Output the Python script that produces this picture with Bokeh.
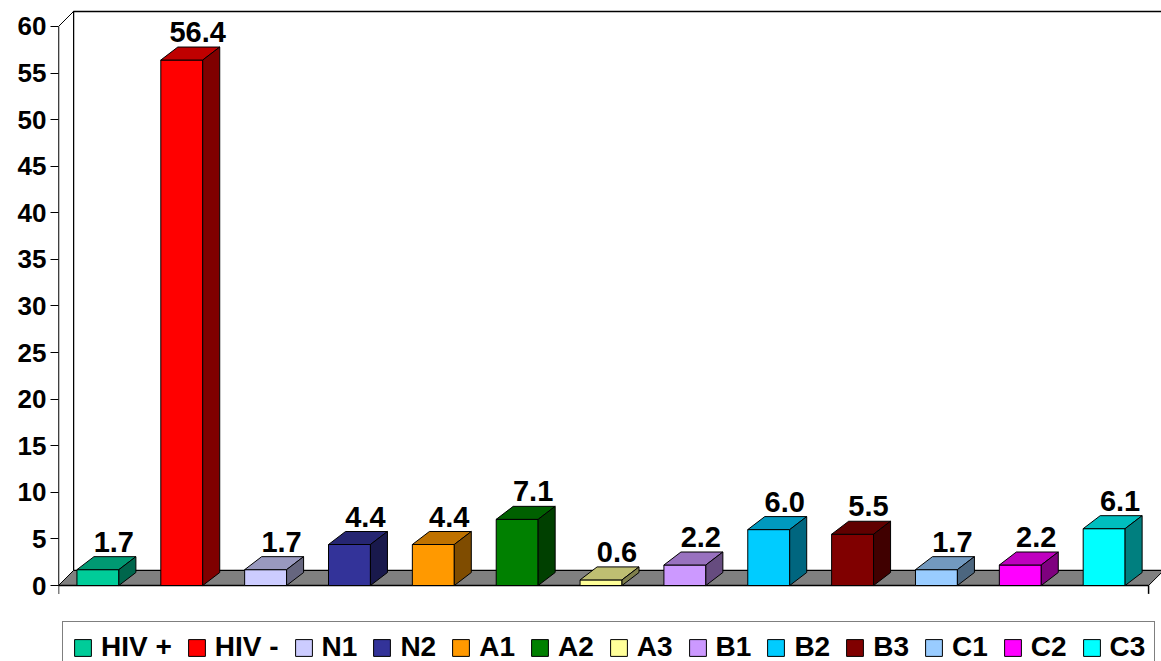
from bokeh.plotting import figure
from bokeh.models import Range1d, FixedTicker, Legend, LegendItem, ColumnDataSource
from bokeh.core.properties import value
from bokeh.embed import file_html
from bokeh.resources import INLINE
import numpy as np

# ---- data ----
categories = ["HIV +", "HIV -", "N1", "N2", "A1", "A2", "A3", "B1", "B2", "B3", "C1", "C2", "C3"]
values = [1.7, 56.4, 1.7, 4.4, 4.4, 7.1, 0.6, 2.2, 6.0, 5.5, 1.7, 2.2, 6.1]
colors = ["#00CC99", "#FF0000", "#CCCCFF", "#333399", "#FF9900", "#008000", "#FFFF99",
          "#CC99FF", "#00CCFF", "#800000", "#99CCFF", "#FF00FF", "#00FFFF"]
y_ticks = list(range(0, 61, 5))

FONT = "Liberation Sans"

def shade(hexcol, f):
    h = hexcol.lstrip("#")
    r, g, b = (int(h[k:k + 2], 16) for k in (0, 2, 4))
    return "#%02x%02x%02x" % (int(r * f), int(g * f), int(b * f))

n = len(categories)
xs = np.arange(n, dtype=float)
vals = np.array(values)

# geometry constants (3D look)
x_lo, x_hi = -0.47, n - 0.47
y_max = 60
wdx, wdy = 0.179, 1.61      # wall/floor depth
bdx, bdy = 0.203, 1.395     # bar depth
half = 0.25                 # half bar width

p = figure(width=1161, height=661, output_backend="svg", toolbar_location=None,
           x_axis_location=None, y_axis_location="left",
           x_range=Range1d(x_lo, x_lo + 13.154), y_range=Range1d(-8.157, 62.79),
           min_border_left=58, min_border_right=0, min_border_top=0, min_border_bottom=0)
p.xgrid.visible = False
p.ygrid.visible = False
p.outline_line_color = None
p.background_fill_color = "white"
p.border_fill_color = "white"

ax = p.yaxis[0]
ax.ticker = FixedTicker(ticks=y_ticks)
ax.axis_line_color = None
ax.major_tick_out = 8
ax.major_tick_in = 0
ax.minor_tick_line_color = None
ax.major_tick_line_color = "black"
ax.major_label_standoff = 4
ax.major_label_text_font = FONT
ax.major_label_text_font_style = "bold"
ax.major_label_text_font_size = "26px"
ax.major_label_text_color = "black"

# walls
p.patch([x_lo + wdx, x_hi + wdx, x_hi + wdx, x_lo + wdx], [wdy, wdy, y_max + wdy, y_max + wdy],
        fill_color="white", line_color="black", line_width=1.5)
p.patch([x_lo, x_lo + wdx, x_lo + wdx, x_lo], [0, wdy, y_max + wdy, y_max],
        fill_color="white", line_color="black", line_width=1)
# floor
p.patch([x_lo, x_hi, x_hi + wdx, x_lo + wdx], [0, 0, wdy, wdy],
        fill_color="#808080", line_color="black", line_width=1)
# axis lines
p.segment(x0=[x_lo, x_lo, x_hi], y0=[y_max, 0, 0], x1=[x_lo, x_hi, x_hi], y1=[-0.9, 0, -0.9],
          line_color="black", line_width=1.5)

# bars
src = ColumnDataSource(dict(left=xs - half, right=xs + half, top=vals, bottom=np.zeros(n),
                            color=colors))
front = p.quad(left="left", right="right", top="top", bottom="bottom", source=src,
               fill_color="color", line_color="black", line_width=1)

top_xs = [[x - half, x + half, x + half + bdx, x - half + bdx] for x in xs]
top_ys = [[v, v, v + bdy, v + bdy] for v in vals]
side_xs = [[x + half, x + half + bdx, x + half + bdx, x + half] for x in xs]
side_ys = [[0, bdy, v + bdy, v] for v in vals]
p.patches(top_xs, top_ys, fill_color=[shade(c, 0.75) for c in colors], line_color="black", line_width=1)
p.patches(side_xs, side_ys, fill_color=[shade(c, 0.5) for c in colors], line_color="black", line_width=1)

# value labels
lab_src = ColumnDataSource(dict(x=xs + 0.19, y=vals + bdy, t=["%.1f" % v for v in values]))
p.text(x="x", y="y", text="t", source=lab_src, text_align="center", text_baseline="bottom",
       y_offset=-5, text_font=value(FONT), text_font_style="bold", text_font_size="29px",
       text_color="black")

# legend
items = [LegendItem(label=c, renderers=[front], index=i) for i, c in enumerate(categories)]
legend = Legend(items=items, orientation="horizontal", location=(4, -12),
                glyph_width=21, glyph_height=21, label_standoff=8, spacing=14, padding=9,
                label_text_font=FONT, label_text_font_style="bold", label_text_font_size="28px",
                label_text_color="black", label_height=21,
                border_line_color="black", border_line_width=1, background_fill_color="white",
                background_fill_alpha=1.0, margin=0)
p.add_layout(legend)

open("out.html", "w").write(file_html(p, INLINE))
